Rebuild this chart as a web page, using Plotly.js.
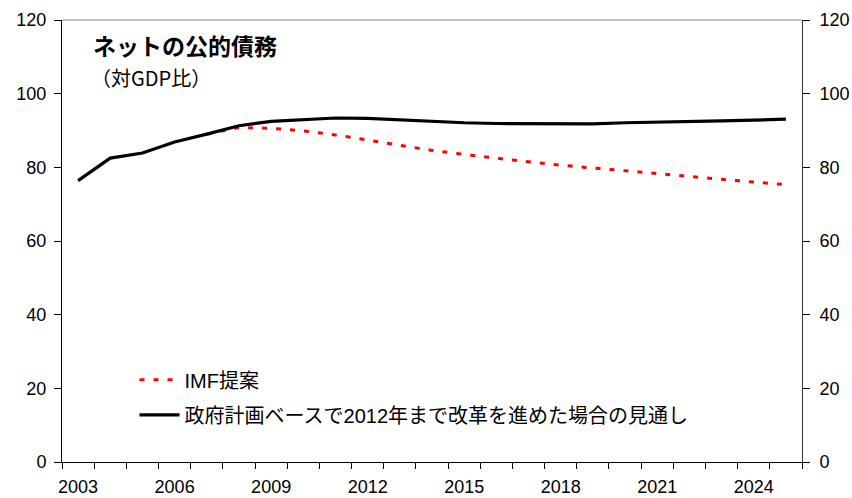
<!DOCTYPE html>
<html>
<head>
<meta charset="utf-8">
<script src="https://cdn.plot.ly/plotly-3.0.1.min.js"></script>
<style>html,body{margin:0;padding:0;background:#fff;}#chart{width:852px;height:498px;}</style>
</head>
<body>
<div id="chart"></div>
<script>
const years = [2003,2004,2005,2006,2007,2008,2009,2010,2011,2012,2013,2014,2015,2016,2017,2018,2019,2020,2021,2022,2023,2024,2025];
const govPlan = [76.4,82.5,83.9,86.9,89.0,91.3,92.5,93.0,93.4,93.3,92.9,92.4,92.1,91.9,91.8,91.8,91.8,92.1,92.2,92.4,92.6,92.8,93.1];
const imfYears = [2007,2008,2009,2010,2011,2012,2013,2014,2015,2016,2017,2018,2019,2020,2021,2022,2023,2024,2025];
const imfProposal = [89.0,90.8,90.6,89.9,88.8,87.4,85.9,84.6,83.5,82.4,81.5,80.6,79.8,79.0,78.2,77.4,76.7,76.0,75.3];
const xTickVals = [2003,2006,2009,2012,2015,2018,2021,2024];
const xTickText = ['2003','2006','2009','2012','2015','2018','2021','2024'];
const seriesNames = ['IMF提案','政府計画ベースで2012年まで改革を進めた場合の見通し'];
const titleMain = 'ネットの公的債務';
const titleSub = '（対GDP比）';

const fontFam = 'Liberation Sans, Arial, Noto Sans CJK JP, sans-serif';
const cjkFam = 'Liberation Sans, Noto Sans CJK JP, sans-serif';

const traces = [
  {x: imfYears, y: imfProposal, name: seriesNames[0], type: 'scatter', mode: 'lines',
   line: {color: '#ff0000', width: 3, dash: '5px,9px'}, legendgroup: 'a'},
  {x: years, y: govPlan, name: seriesNames[1], type: 'scatter', mode: 'lines',
   line: {color: '#000000', width: 3.2}, legendgroup: 'b'},
  {x: years, y: govPlan, yaxis: 'y2', type: 'scatter', mode: 'lines', opacity: 0,
   showlegend: false, hoverinfo: 'skip', line: {color: '#000', width: 0}}
];

const layout = {
  width: 852, height: 498,
  margin: {l: 62, r: 50, t: 20, b: 36},
  paper_bgcolor: '#fff', plot_bgcolor: '#fff',
  font: {family: fontFam, size: 18, color: '#000'},
  showlegend: true,
  legend: {x: 0.098, y: 0.23, xanchor: 'left', yanchor: 'top',
           font: {family: cjkFam, size: 20, color: '#000'},
           bgcolor: 'rgba(0,0,0,0)', traceorder: 'grouped', tracegroupgap: 6, itemwidth: 40},
  xaxis: {range: [2002.5, 2025.5], tickvals: xTickVals, ticktext: xTickText,
          ticks: 'outside', ticklen: 8, tickcolor: 'rgba(0,0,0,0)',
          minor: {tick0: 2002.5, dtick: 1, ticks: 'outside', ticklen: 6, tickcolor: '#000', tickwidth: 1, showgrid: false},
          showline: true, linecolor: '#000', linewidth: 1, showgrid: false, zeroline: false,
          tickfont: {size: 18, family: fontFam}},
  yaxis: {range: [0, 120], dtick: 20, ticks: 'outside', ticklen: 7, tickcolor: '#000',
          showline: true, linecolor: '#000', linewidth: 1, showgrid: false, zeroline: false,
          ticklabelstandoff: 4,
          tickfont: {size: 18, family: fontFam}},
  yaxis2: {range: [0, 120], dtick: 20, overlaying: 'y', side: 'right', ticks: 'outside', ticklen: 7,
           tickcolor: '#000', showline: true, linecolor: '#333', linewidth: 1, showgrid: false, zeroline: false,
           ticklabelstandoff: 6,
           tickfont: {size: 18, family: fontFam}},
  shapes: [
    {type: 'line', xref: 'paper', yref: 'paper', x0: 0, x1: 1, y0: 1, y1: 1, line: {color: '#888', width: 1}}
  ],
  annotations: [
    {text: '<b>' + titleMain + '</b>', xref: 'paper', yref: 'paper', x: 0.039, y: 0.9434, xanchor: 'left', yanchor: 'middle',
     showarrow: false, font: {family: 'Noto Sans CJK JP, sans-serif', size: 23, color: '#000'}},
    {text: titleSub, xref: 'paper', yref: 'paper', x: 0.036, y: 0.871, xanchor: 'left', yanchor: 'middle',
     showarrow: false, font: {family: 'Noto Sans CJK JP, sans-serif', size: 20, color: '#000'}}
  ]
};

Plotly.newPlot('chart', traces, layout, {displayModeBar: false, staticPlot: true});
</script>
</body>
</html>
